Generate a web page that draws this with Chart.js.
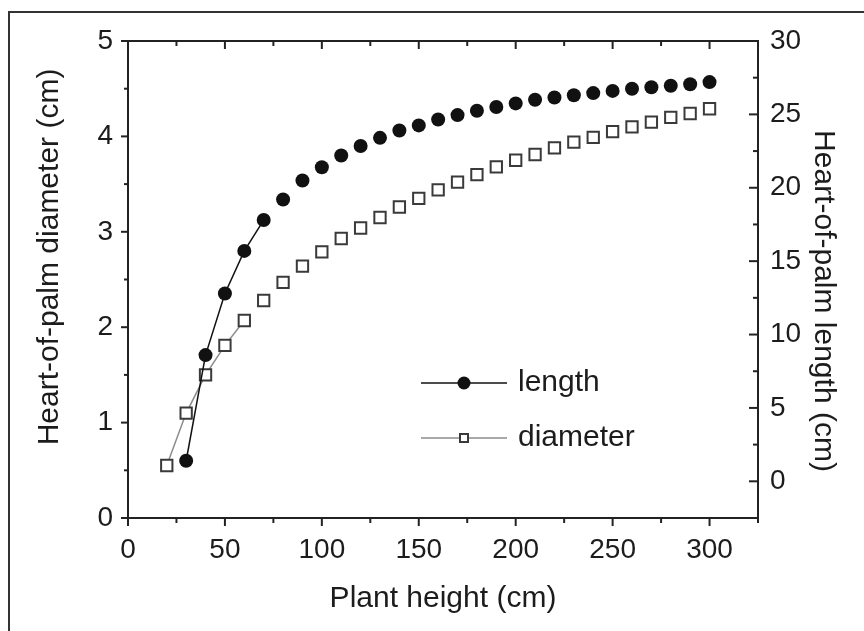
<!DOCTYPE html>
<html>
<head>
<meta charset="utf-8">
<title>Heart-of-palm size vs plant height</title>
<script src="https://cdn.jsdelivr.net/npm/chart.js@4.4.0/dist/chart.umd.min.js"></script>
<style>
  html, body { margin: 0; padding: 0; background: #fff; }
  #wrap { width: 864px; height: 631px; }
</style>
</head>
<body>
<div id="wrap"><canvas id="palmChart" width="864" height="631"></canvas></div>
<script>
// data
const lengthHeights = [30, 40, 50, 60, 70, 80, 90, 100, 110, 120, 130, 140, 150, 160,
  170, 180, 190, 200, 210, 220, 230, 240, 250, 260, 270, 280, 290, 300];
const lengthValues = [1.4, 8.6, 12.8, 15.7, 17.8, 19.2, 20.5, 21.4, 22.2, 22.85, 23.4, 23.9,
  24.25, 24.65, 24.95, 25.25, 25.5, 25.75, 26.0, 26.15, 26.3, 26.45, 26.6, 26.75, 26.85,
  26.95, 27.05, 27.2];

const diameterHeights = [20, 30, 40, 50, 60, 70, 80, 90, 100, 110, 120, 130, 140, 150,
  160, 170, 180, 190, 200, 210, 220, 230, 240, 250, 260, 270, 280, 290, 300];
const diameterValues = [0.55, 1.1, 1.5, 1.81, 2.07, 2.28, 2.47, 2.64, 2.79, 2.93, 3.04,
  3.15, 3.26, 3.35, 3.44, 3.52, 3.6, 3.68, 3.75, 3.81, 3.88, 3.94, 3.99, 4.05, 4.1, 4.15,
  4.2, 4.24, 4.29];

// tick labels
const xTicks = [0, 50, 100, 150, 200, 250, 300];
const diameterTicks = [0, 1, 2, 3, 4, 5];
const lengthTicks = [0, 5, 10, 15, 20, 25, 30];

// only the first points are joined by a line in the original
const joinedPoints = 5;

const FONT = '"Liberation Sans", Arial, sans-serif';
const TEXT = '#1c1c1c';
const AXIS = '#222';

function halfTicks(ticks, min, max) {
  const step = ticks[1] - ticks[0];
  const out = [];
  for (let v = ticks[0] - step / 2; v <= max + 1e-9; v += step) {
    if (v >= min - 1e-9) out.push(v);
  }
  return out;
}

function seg(ctx, x1, y1, x2, y2) {
  ctx.beginPath();
  ctx.moveTo(x1, y1);
  ctx.lineTo(x2, y2);
  ctx.stroke();
}

const framePlugin = {
  id: 'frame',
  beforeDraw(chart) {
    const ctx = chart.ctx;
    ctx.save();
    ctx.fillStyle = '#fff';
    ctx.fillRect(0, 0, chart.width, chart.height);
    // figure border, top and left only
    ctx.strokeStyle = '#333';
    ctx.lineWidth = 2;
    ctx.beginPath();
    ctx.moveTo(9, chart.height);
    ctx.lineTo(9, 12);
    ctx.lineTo(chart.width, 12);
    ctx.stroke();
    ctx.restore();
  },
  afterDraw(chart) {
    const ctx = chart.ctx;
    const a = chart.chartArea;
    const { x, yLeft, yRight } = chart.scales;
    ctx.save();
    ctx.strokeStyle = AXIS;
    ctx.lineWidth = 2;
    ctx.strokeRect(a.left, a.top, a.right - a.left, a.bottom - a.top);

    // x ticks: outward at bottom, inward at top
    xTicks.forEach(v => {
      const px = x.getPixelForValue(v);
      seg(ctx, px, a.bottom, px, a.bottom + 8);
      seg(ctx, px, a.top, px, a.top + 8);
    });
    halfTicks(xTicks, x.min, x.max).forEach(v => {
      const px = x.getPixelForValue(v);
      seg(ctx, px, a.bottom, px, a.bottom + 5);
      seg(ctx, px, a.top, px, a.top + 5);
    });
    // left ticks outward
    diameterTicks.forEach(v => {
      const py = yLeft.getPixelForValue(v);
      seg(ctx, a.left - 7, py, a.left, py);
    });
    halfTicks(diameterTicks, yLeft.min, yLeft.max).forEach(v => {
      const py = yLeft.getPixelForValue(v);
      seg(ctx, a.left - 4, py, a.left, py);
    });
    // right ticks inward
    lengthTicks.forEach(v => {
      const py = yRight.getPixelForValue(v);
      seg(ctx, a.right - 9, py, a.right, py);
    });
    halfTicks(lengthTicks, yRight.min, yRight.max).forEach(v => {
      const py = yRight.getPixelForValue(v);
      seg(ctx, a.right - 5, py, a.right, py);
    });

    // axis titles
    ctx.fillStyle = TEXT;
    ctx.font = '30px ' + FONT;
    ctx.textAlign = 'center';
    ctx.textBaseline = 'alphabetic';
    ctx.fillText('Plant height (cm)', (a.left + a.right) / 2, 607);

    ctx.save();
    ctx.translate(58, 257);
    ctx.rotate(-Math.PI / 2);
    ctx.fillText('Heart-of-palm diameter (cm)', 0, 0);
    ctx.restore();

    ctx.save();
    ctx.translate(815, 301);
    ctx.rotate(Math.PI / 2);
    ctx.fillText('Heart-of-palm length (cm)', 0, 0);
    ctx.restore();

    // legend
    const rows = [{ ds: chart.data.datasets[0], y: 383 }, { ds: chart.data.datasets[1], y: 438 }];
    rows.forEach(r => {
      ctx.strokeStyle = r.ds.borderColor;
      ctx.lineWidth = 1.5;
      seg(ctx, 421, r.y, 507, r.y);
      ctx.fillStyle = r.ds.pointBackgroundColor;
      ctx.strokeStyle = r.ds.pointBorderColor;
      ctx.lineWidth = 2;
      if (r.ds.pointStyle === 'circle') {
        ctx.beginPath();
        ctx.arc(464, r.y, 6.5, 0, Math.PI * 2);
        ctx.fill();
      } else {
        ctx.fillRect(460, r.y - 4, 8, 8);
        ctx.strokeRect(460, r.y - 4, 8, 8);
      }
      ctx.fillStyle = TEXT;
      ctx.font = '30px ' + FONT;
      ctx.textAlign = 'left';
      ctx.textBaseline = 'middle';
      ctx.fillText(r.ds.label, 518, r.y);
    });
    ctx.restore();
  }
};

const tickFont = { family: FONT, size: 28 };

new Chart(document.getElementById('palmChart'), {
  type: 'scatter',
  data: {
    datasets: [
      {
        label: 'length',
        data: lengthHeights.map((h, i) => ({ x: h, y: lengthValues[i] })),
        yAxisID: 'yRight',
        showLine: true,
        borderColor: '#111',
        borderWidth: 1.5,
        pointStyle: 'circle',
        pointRadius: 7,
        pointBackgroundColor: '#111',
        pointBorderColor: '#111',
        pointBorderWidth: 0,
        segment: {
          borderColor: c => c.p1DataIndex < joinedPoints ? '#111' : 'rgba(0,0,0,0)'
        }
      },
      {
        label: 'diameter',
        data: diameterHeights.map((h, i) => ({ x: h, y: diameterValues[i] })),
        yAxisID: 'yLeft',
        showLine: true,
        borderColor: '#8c8c8c',
        borderWidth: 1.5,
        pointStyle: 'rect',
        pointRadius: 8,
        pointBackgroundColor: '#fff',
        pointBorderColor: '#3a3a3a',
        pointBorderWidth: 2,
        segment: {
          borderColor: c => c.p1DataIndex < joinedPoints ? '#8c8c8c' : 'rgba(0,0,0,0)'
        }
      }
    ]
  },
  options: {
    responsive: false,
    animation: false,
    layout: { padding: { top: 41, left: 0, right: 0, bottom: 0 } },
    plugins: {
      legend: { display: false },
      tooltip: { enabled: false }
    },
    scales: {
      x: {
        type: 'linear',
        position: 'bottom',
        min: 0,
        max: 325,
        afterBuildTicks: s => { s.ticks = xTicks.map(v => ({ value: v })); },
        afterFit: s => { s.height = 113; },
        grid: { display: false, drawTicks: false },
        border: { display: false },
        ticks: { font: tickFont, color: TEXT, padding: 15, maxRotation: 0, autoSkip: false }
      },
      yLeft: {
        type: 'linear',
        position: 'left',
        min: 0,
        max: 5,
        afterBuildTicks: s => { s.ticks = diameterTicks.map(v => ({ value: v })); },
        afterFit: s => { s.width = 128; },
        grid: { display: false, drawTicks: false },
        border: { display: false },
        ticks: { font: tickFont, color: TEXT, padding: 15, autoSkip: false }
      },
      yRight: {
        type: 'linear',
        position: 'right',
        min: -2.5,
        max: 30,
        afterBuildTicks: s => { s.ticks = lengthTicks.map(v => ({ value: v })); },
        afterFit: s => { s.width = 106; },
        grid: { display: false, drawTicks: false },
        border: { display: false },
        ticks: { font: tickFont, color: TEXT, padding: 12, autoSkip: false }
      }
    }
  },
  plugins: [framePlugin]
});
</script>
</body>
</html>
